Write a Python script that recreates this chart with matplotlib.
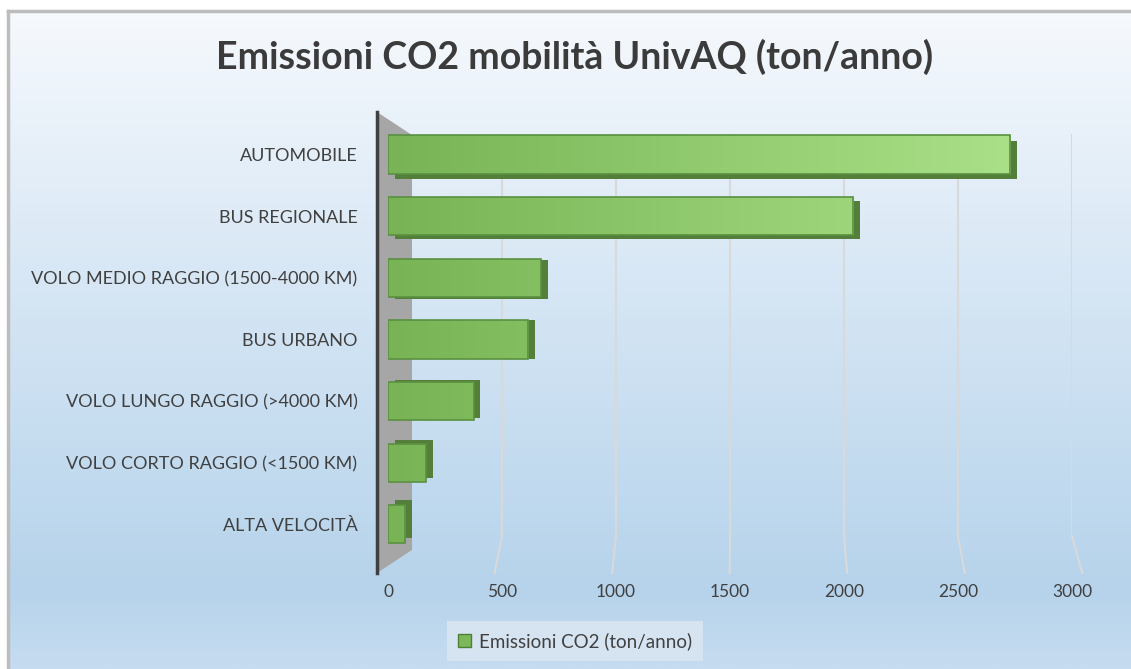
import numpy as np
import matplotlib.pyplot as plt
from matplotlib import patheffects
from matplotlib.colors import LinearSegmentedColormap
from matplotlib.patches import Polygon, Rectangle

plt.rcParams['font.family'] = ['Lato', 'DejaVu Sans']

categories = ["AUTOMOBILE", "BUS REGIONALE", "VOLO MEDIO RAGGIO (1500-4000 KM)", "BUS URBANO",
              "VOLO LUNGO RAGGIO (>4000 KM)", "VOLO CORTO RAGGIO (<1500 KM)", "ALTA VELOCITÀ"]
emissions = [2730, 2040, 670, 615, 375, 165, 75]
ticks = [0, 500, 1000, 1500, 2000, 2500, 3000]
title = "Emissioni CO2 mobilità UnivAQ (ton/anno)"
series_name = "Emissioni CO2 (ton/anno)"

W, H = 1131, 669
fig = plt.figure(figsize=(W / 100, H / 100), dpi=100)
fig.patch.set_facecolor('white')

# chart area background (light blue gradient, grey frame)
bg = fig.add_axes([8 / W, 0, 1 - 8 / W, 1 - 11 / H])
bg_cmap = LinearSegmentedColormap.from_list(
    'bg', [(0, '#f6f9fd'), (0.45, '#d4e5f4'), (0.88, '#b6d3eb'), (1, '#c6dcf0')])
bg.imshow(np.linspace(0, 1, 256).reshape(-1, 1), aspect='auto', cmap=bg_cmap,
          extent=[0, 1, 0, 1], origin='upper')
bg.set_xlim(0, 1)
bg.set_ylim(0, 1)
bg.set_xticks([])
bg.set_yticks([])
for side in ['right', 'bottom']:
    bg.spines[side].set_visible(False)
for side in ['left', 'top']:
    bg.spines[side].set_color('#bdbdbd')
    bg.spines[side].set_linewidth(2.5)

ax = fig.add_axes([388 / W, (H - 573) / H, 684 / W, 461 / H])
ax.set_facecolor('none')
for s in ax.spines.values():
    s.set_visible(False)

# side wall
wall = Polygon([(-0.0161, 0), (-0.0161, 1.0), (0.0351, 0.95), (0.0351, 0.05)],
               closed=True, transform=ax.transAxes, facecolor='#a6a6a6',
               edgecolor='none', clip_on=False, zorder=1)
ax.add_patch(wall)
ax.plot([-0.0161, -0.0161], [0, 1.0], transform=ax.transAxes, color='#3f3f3f',
        lw=2.5, clip_on=False, zorder=2)

# gridlines with floor tails
for v in ticks[1:]:
    ax.plot([v, v], [0.95, 0.08], transform=ax.get_xaxis_transform(),
            color='#d9d9d9', lw=1.5, zorder=1)
    ax.plot([v, v * 1.031 - 48], [0.08, 0.0], transform=ax.get_xaxis_transform(),
            color='#d9d9d9', lw=1.5, zorder=1, clip_on=False)

n = len(categories)
y = np.arange(n)
bars = ax.barh(y, emissions, height=0.62, color='#7cb85a', edgecolor='none', zorder=3)
for i, b in enumerate(bars):
    dy = (i - (n - 1) / 2) * 1.3
    b.set_path_effects([
        patheffects.SimplePatchShadow(offset=(5, dy), shadow_rgbFace='#537f3a', alpha=1.0),
        patheffects.Normal()])

# green gradient along the value axis
bar_cmap = LinearSegmentedColormap.from_list('bar', ['#78b456', '#afe58d'])
grad = np.linspace(0, 1, 256).reshape(1, -1)
for b in bars:
    im = ax.imshow(grad, aspect='auto', cmap=bar_cmap, extent=[0, 3000, n, -1],
                   zorder=3.5, interpolation='bilinear')
    im.set_clip_path(b)
ax.set_xlim(0, 3000)
ax.set_ylim(n - 0.21, -0.69)
ax.barh(y, emissions, height=0.62, fill=False, edgecolor='#5a9040', lw=1.2, zorder=4)

ax.set_yticks(y)
ax.set_yticklabels(categories, fontsize=13, color='#404040')
ax.set_xticks(ticks)
ax.set_xticklabels([str(t) for t in ticks], fontsize=12.5, color='#404040')
ax.tick_params(axis='y', length=0, pad=22)
ax.tick_params(axis='x', length=0, pad=8)

fig.text(575 / W, 1 - 57 / H, title, ha='center', va='center', fontsize=27,
         fontweight='bold', color='#3b3b3b')

handle = Rectangle((0, 0), 1, 1, facecolor='#7cb85a', edgecolor='#4e7f35', lw=1)
leg = fig.legend([handle], [series_name], loc='center',
                 bbox_to_anchor=(575 / W, 1 - 641 / H), frameon=True, fancybox=False,
                 facecolor='#d6e4f2', edgecolor='none', fontsize=13.5,
                 handlelength=0.7, handleheight=0.7, handletextpad=0.4,
                 borderpad=0.6, borderaxespad=0)
leg.get_frame().set_alpha(1)
for t in leg.get_texts():
    t.set_color('#404040')

fig.savefig('out.png', dpi=100)
